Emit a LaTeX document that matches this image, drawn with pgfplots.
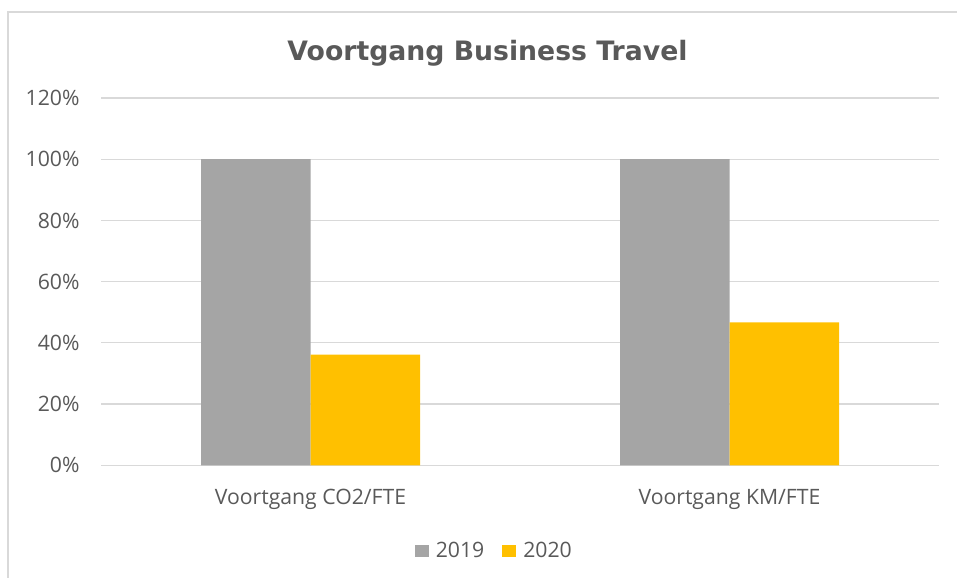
\documentclass[border=0pt]{standalone}
\usepackage{pgfplots}
\pgfplotsset{compat=1.18}
\usepackage{fontspec}
\setmainfont{Open Sans}
\newfontfamily\titlefont{DejaVu Sans}
\definecolor{txt}{HTML}{595959}
\definecolor{gridc}{HTML}{D9D9D9}
\definecolor{cgray}{HTML}{A5A5A5}
\definecolor{cgold}{HTML}{FFC000}
\begin{document}
\begin{tikzpicture}
\useasboundingbox (0,0) rectangle (957bp,-578bp);
\draw[gridc, line width=1.2bp] (8bp,-578bp) -- (8bp,-12bp) -- (957bp,-12bp);
\node[anchor=base, text=txt, font=\titlefont\bfseries\fontsize{26.7bp}{30bp}\selectfont] at (487.5bp,-60.7bp) {Voortgang Business Travel};
\begin{axis}[
  at={(101bp,-465.3bp)}, anchor=south west,
  scale only axis, width=838bp, height=367.3bp,
  ybar=0pt, bar width=109.5bp,
  xmin=-0.5, xmax=1.5, ymin=0, ymax=120,
  xtick={0,1}, xticklabels={Voortgang CO2/FTE, Voortgang KM/FTE},
  ytick={0,20,40,60,80,100,120},
  yticklabels={0\%,20\%,40\%,60\%,80\%,100\%,120\%},
  ymajorgrids, xmajorgrids=false,
  y grid style={gridc, line width=1.2bp},
  axis line style={draw=none},
  major tick length=0pt,
  tick label style={text=txt, font=\fontsize{21.2bp}{25bp}\selectfont},
  xticklabel style={anchor=base, yshift=-38.7bp},
  yticklabel style={xshift=-18bp},
  legend columns=2,
  legend style={at={(0.4693,-0.2333)}, anchor=center, draw=none, fill=none,
    font=\fontsize{21.2bp}{25bp}\selectfont, text=txt,
    /tikz/every odd column/.append style={column sep=5bp},
    /tikz/every even column/.append style={column sep=16bp}},
  legend image code/.code={\fill[#1] (0bp,-6bp) rectangle (14bp,6.5bp);},
]
\addplot[fill=cgray, draw=none] coordinates {(0,100) (1,100)};
\addplot[fill=cgold, draw=none] coordinates {(0,36.2) (1,46.7)};
\legend{2019,2020}
\end{axis}
\end{tikzpicture}
\end{document}
